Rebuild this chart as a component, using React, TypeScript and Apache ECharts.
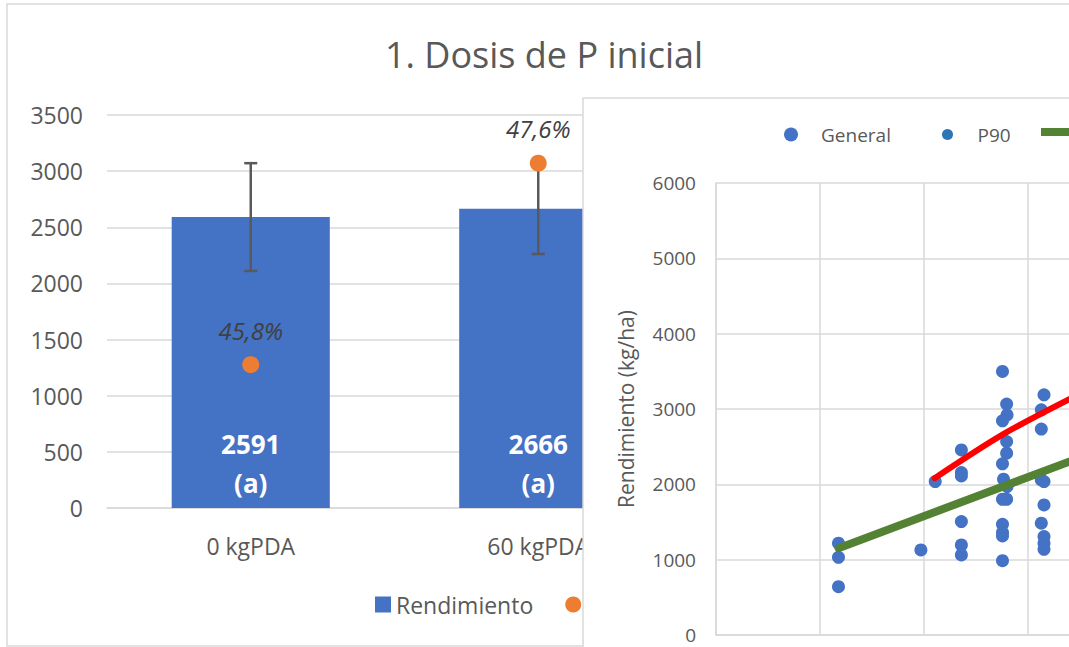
import React, { useEffect, useRef } from "react";
import * as echarts from "echarts";

// ---------- Bar chart data ----------
const barTitle = "1. Dosis de P inicial";
const barCategories = ["0 kgPDA", "60 kgPDA"];
const barValues = [2591, 2666];
const barErrors = [480, 404];
const barLetters = ["a", "a"];
const efficiencyValues = [45.8, 47.6];

// ---------- Scatter chart data ----------
const generalPoints: [number, number][] = [
  [5.9, 1218], [5.9, 1032], [5.9, 642],
  [9.87, 1129],
  [10.56, 2037],
  [11.82, 2457], [11.82, 2156], [11.82, 2112], [11.82, 1505], [11.82, 1196], [11.82, 1063],
  [13.8, 3498], [14.0, 3065], [14.02, 2922], [13.8, 2843], [14.0, 2568], [14.0, 2414],
  [13.8, 2272], [13.85, 2068], [14.02, 1970], [13.8, 1802], [14.0, 1802], [13.8, 1470],
  [13.8, 1359], [13.8, 1315], [13.8, 987],
  [15.8, 3188], [15.67, 2989], [15.67, 2733], [15.67, 2059], [15.8, 2037], [15.8, 1727],
  [15.67, 1484], [15.8, 1306], [15.8, 1218], [15.8, 1138],
];
const p90Points: [number, number][] = [
  [10.56, 2037], [11.82, 2457], [14.0, 3065], [15.8, 3188],
];
const trendGeneral: [number, number][] = [[5.9, 1152], [18, 2403]];
const trendP90: [number, number][] = [[10.53, 2082], [13.78, 2657], [17.02, 3131]];

const FONT = "Open Sans";
const GREY = "#595959";
const GRID = "#d9d9d9";
const LINE_ICON = "path://M0,0 L50,0 L50,8 L0,8 Z";

export default function App() {
  const barRef = useRef<HTMLDivElement>(null);
  const scRef = useRef<HTMLDivElement>(null);

  useEffect(() => {
    const bar = echarts.init(barRef.current!, null, { renderer: "svg" });
    const sc = echarts.init(scRef.current!, null, { renderer: "svg" });

    bar.setOption({
      animation: false,
      backgroundColor: "#ffffff",
      textStyle: { fontFamily: FONT },
      title: {
        text: barTitle,
        left: 539,
        top: 31,
        textAlign: "center",
        textStyle: { fontFamily: FONT, fontSize: 36, fontWeight: "normal", color: GREY },
      },
      graphic: [
        {
          type: "rect",
          shape: { x: 7, y: 4, width: 1080, height: 642 },
          style: { fill: "none", stroke: GRID, lineWidth: 1.5 },
          silent: true,
        },
      ],
      legend: {
        left: 370,
        top: 588,
        itemWidth: 16,
        itemHeight: 16,
        itemGap: 32,
        textStyle: { fontFamily: FONT, fontSize: 23, color: GREY },
        data: [
          { name: "Rendimiento", icon: "rect" },
          { name: "Eficiencia", icon: "circle" },
        ],
      },
      grid: { left: 107, top: 115, width: 575, height: 393 },
      xAxis: {
        type: "category",
        data: barCategories,
        axisTick: { show: false },
        axisLine: { lineStyle: { color: GRID, width: 1.5 } },
        axisLabel: { fontFamily: FONT, fontSize: 23, color: GREY, margin: 26 },
      },
      yAxis: [
        {
          type: "value",
          min: 0,
          max: 3500,
          interval: 500,
          axisLabel: {
            fontFamily: FONT,
            fontSize: 23,
            color: GREY,
            margin: 24,
            formatter: (v: number) => String(v),
          },
          splitLine: { lineStyle: { color: GRID, width: 1.5 } },
          axisLine: { show: false },
          axisTick: { show: false },
        },
        { type: "value", min: 44.52, max: 48.03, show: false, splitLine: { show: false } },
      ],
      series: [
        {
          name: "Rendimiento",
          type: "bar",
          data: barValues,
          barWidth: "55%",
          itemStyle: { color: "#4472C4" },
          z: 2,
          label: {
            show: true,
            position: "insideBottom",
            distance: 6,
            formatter: (p: any) => `${p.value}\n(${barLetters[p.dataIndex]})`,
            color: "#ffffff",
            fontFamily: FONT,
            fontWeight: "bold",
            fontSize: 26,
            lineHeight: 39,
          },
        },
        {
          name: "Error",
          type: "custom",
          data: barValues.map((v, i) => [i, v - barErrors[i], v + barErrors[i]]),
          encode: { x: 0, y: [1, 2] },
          z: 3,
          silent: true,
          renderItem: (params: any, api: any) => {
            const lo = api.coord([api.value(0), api.value(1)]);
            const hi = api.coord([api.value(0), api.value(2)]);
            const st = { stroke: "#595959", lineWidth: 2.5 };
            const h = 6.5;
            return {
              type: "group",
              children: [
                { type: "line", shape: { x1: hi[0], y1: hi[1], x2: lo[0], y2: lo[1] }, style: st },
                { type: "line", shape: { x1: hi[0] - h, y1: hi[1], x2: hi[0] + h, y2: hi[1] }, style: st },
                { type: "line", shape: { x1: lo[0] - h, y1: lo[1], x2: lo[0] + h, y2: lo[1] }, style: st },
              ],
            };
          },
        },
        {
          name: "Eficiencia",
          type: "scatter",
          yAxisIndex: 1,
          data: efficiencyValues,
          symbolSize: 17,
          itemStyle: { color: "#ED7D31", opacity: 1 },
          z: 4,
          label: {
            show: true,
            position: "top",
            distance: 14,
            formatter: (p: any) => p.value.toFixed(1).replace(".", ",") + "%",
            fontFamily: FONT,
            fontStyle: "italic",
            fontSize: 24,
            color: "#404040",
          },
        },
      ],
    });

    const legendText = { fontFamily: FONT, fontSize: 19, color: GREY };
    sc.setOption({
      animation: false,
      textStyle: { fontFamily: FONT },
      graphic: [
        {
          type: "rect",
          shape: { x: 583, y: 98, width: 1200, height: 700 },
          style: { fill: "#ffffff", stroke: GRID, lineWidth: 1.5 },
          silent: true,
          z: -10,
        },
      ],
      legend: [
        {
          left: 779, top: 120, itemWidth: 50, itemHeight: 14, textStyle: legendText,
          data: [{ name: "General", icon: "circle" }],
        },
        {
          left: 937, top: 120, itemWidth: 50, itemHeight: 11, textStyle: legendText,
          data: [{ name: "P90", icon: "circle" }],
        },
        {
          // only the line key is inside the picture; its text lies beyond the crop
          left: 1036, top: 120, itemWidth: 50, itemHeight: 14, textStyle: legendText,
          formatter: () => "",
          data: [{ name: "Lineal (General)", icon: LINE_ICON }],
        },
      ],
      grid: { left: 716, top: 183, width: 519, height: 452 },
      xAxis: {
        type: "value",
        min: 0,
        max: 25,
        interval: 5,
        axisLabel: { show: false },
        axisTick: { show: false },
        axisLine: { lineStyle: { color: GRID, width: 1.5 } },
        splitLine: { show: true, lineStyle: { color: GRID, width: 1.5 } },
      },
      yAxis: {
        type: "value",
        min: 0,
        max: 6000,
        interval: 1000,
        name: "Rendimiento (kg/ha)",
        nameLocation: "middle",
        nameGap: 80,
        nameTextStyle: { fontFamily: FONT, fontSize: 21, color: GREY },
        axisLabel: {
          fontFamily: FONT,
          fontSize: 19,
          color: GREY,
          margin: 20,
          formatter: (v: number) => String(v),
        },
        axisTick: { show: false },
        axisLine: { show: true, lineStyle: { color: GRID, width: 1.5 } },
        splitLine: { lineStyle: { color: GRID, width: 1.5 } },
      },
      series: [
        {
          name: "General",
          type: "scatter",
          data: generalPoints,
          symbolSize: 13,
          itemStyle: { color: "#4472C4", opacity: 1 },
          z: 3,
        },
        {
          name: "P90",
          type: "scatter",
          data: p90Points,
          symbolSize: 11,
          itemStyle: { color: "#2E75B6", opacity: 1 },
          z: 2,
        },
        {
          name: "Lineal (General)",
          type: "line",
          data: trendGeneral,
          symbol: "none",
          lineStyle: { color: "#548235", width: 8, cap: "round" },
          itemStyle: { color: "#548235" },
          z: 4,
        },
        {
          name: "Lineal (P90)",
          type: "line",
          data: trendP90,
          symbol: "none",
          smooth: 0.3,
          lineStyle: { color: "#FF0000", width: 6, cap: "round" },
          itemStyle: { color: "#FF0000" },
          z: 5,
        },
      ],
    });

    return () => {
      bar.dispose();
      sc.dispose();
    };
  }, []);

  return (
    <div
      style={{
        position: "fixed",
        left: 0,
        top: 0,
        width: 1069,
        height: 647,
        overflow: "hidden",
        background: "#ffffff",
      }}
    >
      <div ref={barRef} style={{ position: "absolute", left: 0, top: 0, width: 1069, height: 647 }} />
      <div ref={scRef} style={{ position: "absolute", left: 0, top: 0, width: 1800, height: 700 }} />
    </div>
  );
}
